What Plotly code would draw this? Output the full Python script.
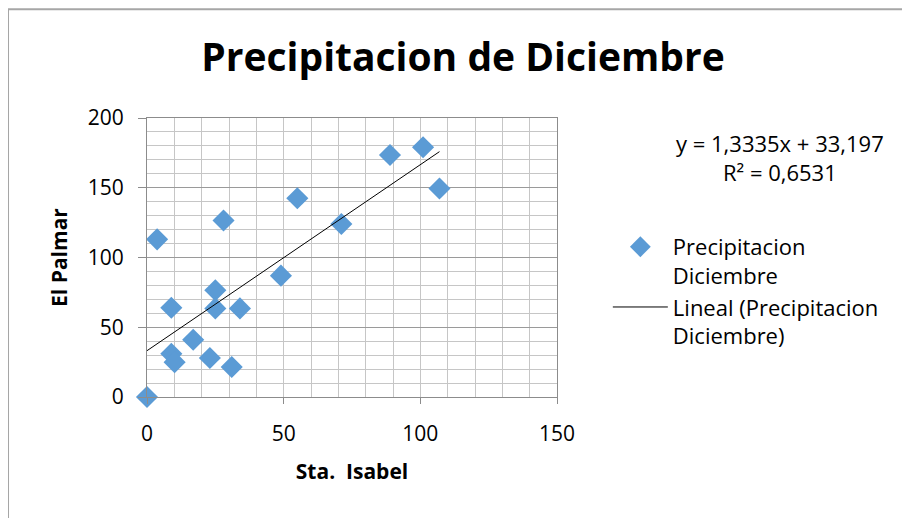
import numpy as np
import plotly.graph_objects as go

# Sta. Isabel (x) vs El Palmar (y), precipitacion de diciembre
sta_isabel = [0, 3.7, 8.9, 8.9, 10.1, 16.9, 23.0, 25.0, 25.0, 28.0, 31.0, 34.0,
              49.0, 55.0, 71.1, 88.9, 101.0, 107.0]
el_palmar = [0, 113, 64, 31, 25, 41, 28, 76.5, 63.5, 126.5, 21.5, 63.5,
             87, 142.5, 124, 173.5, 179, 149.5]

# trendline reported by the spreadsheet
slope = 1.3335
intercept = 33.197
r2 = 0.6531

font_fam = "Open Sans, Liberation Sans, sans-serif"
blue = "#5b9bd5"


def es_num(v, nd):
    # decimal comma, as in the original sheet
    return f"{v:.{nd}f}".replace(".", ",")


tx = np.array([min(sta_isabel), max(sta_isabel)])
ty = slope * tx + intercept

pts = go.Scatter(
    x=sta_isabel, y=el_palmar,
    name="Precipitacion<br>Diciembre",
    mode="markers",
    marker=dict(symbol="diamond", size=17, color=blue),
    cliponaxis=False,
)
trend = go.Scatter(
    x=tx, y=ty,
    name="Lineal (Precipitacion<br>Diciembre)",
    mode="lines",
    line=dict(color="black", width=1),
)

eq_text = f"y = {es_num(slope, 4)}x + {es_num(intercept, 3)}<br>R² = {es_num(r2, 4)}"

layout = go.Layout(
    width=910, height=518,
    paper_bgcolor="white", plot_bgcolor="white",
    margin=dict(l=139, r=361, t=110, b=129),
    font=dict(family=font_fam, size=21, color="black"),
    title=dict(text="<b>Precipitacion de Diciembre</b>", x=0.5, xref="container",
               xanchor="center", y=0.905, yref="container", yanchor="middle",
               font=dict(size=39)),
    showlegend=True,
    legend=dict(x=1.124, y=0.613, xanchor="left", yanchor="top", valign="top",
                bgcolor="rgba(0,0,0,0)", font=dict(size=22),
                tracegroupgap=8, itemwidth=55),
    xaxis=dict(
        range=[0, 150], dtick=50, showline=True, linecolor="#8c8c8c",
        mirror=True, ticks="outside", ticklen=6, tickcolor="#8c8c8c",
        gridcolor="#c6c6c6", zeroline=False, ticklabelstandoff=12,
        minor=dict(dtick=10, showgrid=True, gridcolor="#c6c6c6"),
        title=dict(text="<b>Sta.  Isabel</b>", font=dict(size=21), standoff=18),
    ),
    yaxis=dict(
        range=[0, 200], dtick=50, showline=True, linecolor="#8c8c8c",
        mirror=True, ticks="outside", ticklen=8, tickcolor="#8c8c8c",
        gridcolor="#9a9a9a", zeroline=False, ticklabelstandoff=10,
        minor=dict(dtick=10, showgrid=True, gridcolor="#c6c6c6"),
        title=dict(text="<b>El Palmar</b>", font=dict(size=21), standoff=14),
    ),
    annotations=[dict(
        text=eq_text,
        xref="paper", yref="paper", x=1.544, y=0.857, xanchor="center", yanchor="middle",
        showarrow=False, align="center", font=dict(size=22),
    )],
    shapes=[dict(type="rect", xref="paper", yref="paper",
                 x0=-0.339, x1=1.95, y0=-0.5, y1=1.39,
                 line=dict(color="#a6a6a6", width=2), layer="below")],
)

fig = go.Figure(data=[pts, trend], layout=layout)
fig.write_html("out.html")
